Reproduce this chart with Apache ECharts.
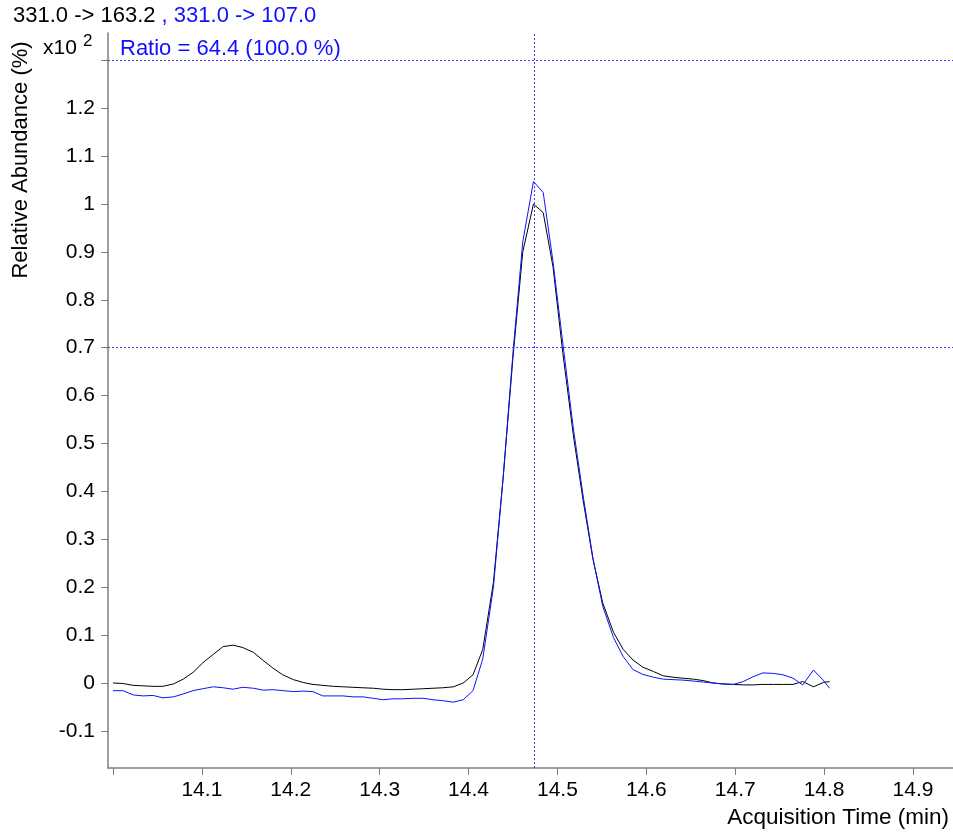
<!DOCTYPE html>
<html>

<head>
	<meta charset="UTF-8">
	<title></title>
	<style>
		html,
		body {
			margin: 0;
			padding: 0;
			background: #fff;
		}

		#chart {
			width: 953px;
			height: 833px;
		}
	</style>
	<script src="https://cdn.jsdelivr.net/npm/echarts@6/dist/echarts.min.js"></script>
</head>

<body>
	<div id="chart"></div>
	<script>
		// acquisition time (min)
		var times = [
			14.000, 14.011, 14.023, 14.034, 14.045, 14.056, 14.068, 14.079, 14.090, 14.101,
			14.113, 14.124, 14.135, 14.146, 14.158, 14.169, 14.180, 14.191, 14.203, 14.214,
			14.225, 14.236, 14.248, 14.259, 14.270, 14.281, 14.293, 14.304, 14.315, 14.326,
			14.338, 14.349, 14.360, 14.371, 14.383, 14.394, 14.405, 14.416, 14.428, 14.439,
			14.450, 14.461, 14.473, 14.484, 14.495, 14.506, 14.518, 14.529, 14.540, 14.551,
			14.563, 14.574, 14.585, 14.596, 14.608, 14.619, 14.630, 14.641, 14.653, 14.664,
			14.675, 14.686, 14.698, 14.709, 14.720, 14.731, 14.743, 14.754, 14.765, 14.776,
			14.788, 14.799, 14.806
		];
		// 331.0 -> 163.2 (x10^2 %)
		var quant = [
			0.000, -0.001, -0.005, -0.006, -0.007, -0.007, -0.002, 0.008, 0.022, 0.042,
			0.060, 0.076, 0.079, 0.074, 0.064, 0.047, 0.031, 0.017, 0.007, 0.001,
			-0.003, -0.005, -0.007, -0.008, -0.009, -0.010, -0.011, -0.013, -0.014, -0.014,
			-0.013, -0.012, -0.011, -0.010, -0.008, 0.000, 0.017, 0.070, 0.210, 0.430,
			0.680, 0.900, 1.000, 0.982, 0.869, 0.690, 0.516, 0.380, 0.258, 0.167,
			0.106, 0.070, 0.048, 0.033, 0.024, 0.015, 0.012, 0.010, 0.008, 0.005,
			0.000, -0.002, -0.003, -0.004, -0.004, -0.003, -0.003, -0.003, -0.003, 0.003,
			-0.008, 0.001, 0.003
		];
		// 331.0 -> 107.0 (scaled qualifier)
		var qual = [
			-0.016, -0.016, -0.025, -0.027, -0.026, -0.031, -0.029, -0.023, -0.016, -0.012,
			-0.008, -0.010, -0.013, -0.009, -0.011, -0.015, -0.014, -0.016, -0.018, -0.017,
			-0.018, -0.027, -0.027, -0.027, -0.029, -0.029, -0.032, -0.035, -0.033, -0.033,
			-0.032, -0.032, -0.035, -0.037, -0.040, -0.035, -0.016, 0.050, 0.200, 0.430,
			0.690, 0.921, 1.047, 1.024, 0.880, 0.710, 0.530, 0.390, 0.260, 0.160,
			0.095, 0.055, 0.028, 0.018, 0.012, 0.008, 0.007, 0.006, 0.004, 0.002,
			0.000, -0.002, -0.003, 0.003, 0.013, 0.021, 0.020, 0.017, 0.010, -0.004,
			0.027, 0.006, -0.011
		];
		var xTicks = [14.0, 14.1, 14.2, 14.3, 14.4, 14.5, 14.6, 14.7, 14.8, 14.9];
		var xLabels = [14.1, 14.2, 14.3, 14.4, 14.5, 14.6, 14.7, 14.8, 14.9];
		var yTicks = [-0.1, 0, 0.1, 0.2, 0.3, 0.4, 0.5, 0.6, 0.7, 0.8, 0.9, 1, 1.1, 1.2, 1.3];
		var yLabels = [-0.1, 0, 0.1, 0.2, 0.3, 0.4, 0.5, 0.6, 0.7, 0.8, 0.9, 1, 1.1, 1.2];
		var retentionTime = 14.474;
		var ratioLevels = [1.3, 0.7];

		var font = '"Liberation Sans", Arial, sans-serif';
		var axisGray = '#7f7f7f';
		var blue = '#1010ff';
		var markBlue = '#3a3aff';

		var myChart = echarts.init(document.getElementById('chart'));
		myChart.setOption({
			animation: false,
			backgroundColor: '#fff',
			grid: { left: 108, right: 0, top: 33, bottom: 65 },
			xAxis: {
				type: 'value',
				min: 13.9944,
				max: 14.945,
				splitLine: { show: false },
				axisLine: { onZero: false, lineStyle: { color: axisGray, width: 1.5 } },
				axisTick: { length: 7, customValues: xTicks, lineStyle: { color: axisGray } },
				axisLabel: {
					customValues: xLabels, margin: 12, fontSize: 21,
					color: '#000', fontFamily: font
				}
			},
			yAxis: {
				type: 'value',
				min: -0.1775,
				max: 1.357,
				splitLine: { show: false },
				axisLine: { show: true, lineStyle: { color: axisGray, width: 1.5 } },
				axisTick: { show: true, length: 7, customValues: yTicks, lineStyle: { color: axisGray } },
				axisLabel: {
					customValues: yLabels, margin: 13, fontSize: 21,
					color: '#000', fontFamily: font
				}
			},
			series: [
				{
					type: 'line',
					data: times.map(function (t, i) { return [t, quant[i]]; }),
					showSymbol: false,
					lineStyle: { color: '#000', width: 1 },
					z: 3
				},
				{
					type: 'line',
					data: times.map(function (t, i) { return [t, qual[i]]; }),
					showSymbol: false,
					lineStyle: { color: blue, width: 1 },
					z: 4,
					markLine: {
						silent: true,
						symbol: 'none',
						precision: 4,
						label: { show: false },
						itemStyle: { color: markBlue },
						lineStyle: { color: markBlue, type: [2, 2], width: 1, opacity: 1 },
						data: [
							{ yAxis: ratioLevels[0] },
							{ yAxis: ratioLevels[1] },
							{ xAxis: retentionTime }
						]
					}
				}
			],
			graphic: [
				{
					type: 'text', left: 13, top: 5,
					style: {
						text: '{k|331.0 -> 163.2} {b|, 331.0 -> 107.0}',
						font: '22px ' + font,
						rich: {
							k: { fill: '#000', fontSize: 22, fontFamily: font },
							b: { fill: blue, fontSize: 22, fontFamily: font }
						}
					}
				},
				{
					type: 'text', left: 43, top: 38,
					style: { text: 'x10', font: '21px ' + font, fill: '#000' }
				},
				{
					type: 'text', left: 83, top: 33,
					style: { text: '2', font: '17px ' + font, fill: '#000' }
				},
				{
					type: 'text', left: 120, top: 38,
					style: { text: 'Ratio = 64.4 (100.0 %)', font: '22px ' + font, fill: blue }
				},
				{
					type: 'text', x: 21, y: 160, rotation: Math.PI / 2,
					style: {
						text: 'Relative Abundance (%)', font: '22px ' + font, fill: '#000',
						align: 'center', verticalAlign: 'middle'
					}
				},
				{
					type: 'text', x: 949, y: 818,
					style: {
						text: 'Acquisition Time (min)', font: '22.5px ' + font, fill: '#000',
						align: 'right', verticalAlign: 'middle'
					}
				}
			]
		});
	</script>
</body>

</html>
